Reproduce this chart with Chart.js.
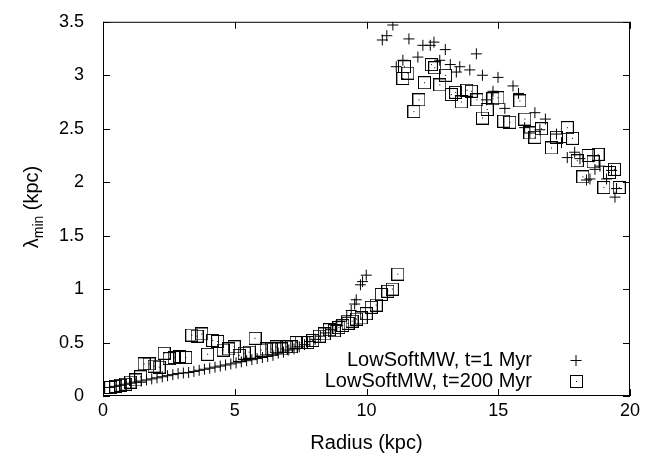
<!DOCTYPE html>
<html>
<head>
<meta charset="utf-8">
<script src="https://cdn.jsdelivr.net/npm/chart.js@4.4.1/dist/chart.umd.min.js"></script>
<style>
  body{margin:0;background:#fff;}
  #wrap{width:646px;height:460px;}
</style>
</head>
<body>
<div id="wrap"><canvas id="chart" width="646" height="460"></canvas></div>
<script>
// lambda_min gegen Radius – zwei Zeitpunkte
const radiusT1 = [
  0.25,0.45,0.65,0.85,1.05,1.25,1.45,1.65,1.85,2.05,2.25,2.45,2.65,2.85,3.05,3.25,3.45,3.65,3.85,4.05,
  4.25,4.45,4.65,4.85,5.05,5.25,5.45,5.65,5.85,6.05,6.25,6.45,6.65,6.85,7.05,7.25,7.45,7.65,7.85,8.05,
  8.25,8.45,8.65,8.85,9.05,9.25,9.42,9.55,9.61,9.77,9.85,9.99,
  10.60,10.77,11.00,11.13,11.38,11.61,11.95,12.14,12.42,12.56,12.78,12.99,13.18,13.41,13.54,13.92,14.17,14.40,
  14.55,14.80,14.99,15.25,15.56,15.77,16.00,16.20,16.39,16.58,16.79,17.21,17.40,17.62,17.90,18.10,18.35,18.48,
  18.67,18.86,19.11,19.30,19.43,19.49
];
const lambdaT1 = [
  0.08,0.09,0.10,0.11,0.12,0.13,0.14,0.15,0.16,0.17,0.18,0.19,0.20,0.21,0.215,0.22,0.23,0.24,0.25,0.26,
  0.27,0.28,0.29,0.30,0.31,0.32,0.33,0.34,0.35,0.36,0.37,0.38,0.40,0.41,0.43,0.44,0.46,0.48,0.51,0.53,
  0.56,0.59,0.62,0.66,0.70,0.75,0.80,0.86,0.90,1.04,1.07,1.13,
  3.33,3.37,3.47,3.08,3.14,3.34,3.17,3.28,3.28,3.31,3.14,3.24,3.10,3.03,3.08,3.05,3.20,3.00,
  2.77,2.85,2.98,2.69,2.90,2.83,2.51,2.46,2.65,2.49,2.59,2.45,2.37,2.23,2.28,2.22,2.02,2.03,
  2.12,2.15,2.03,2.11,1.86,1.94
];
const radiusT200 = [
  0.29,0.48,0.67,0.86,1.05,1.24,1.43,1.56,1.75,1.94,2.13,2.32,2.51,2.70,2.91,3.14,3.37,3.57,3.75,3.97,
  4.16,4.35,4.56,4.77,4.98,5.17,5.36,5.55,5.77,6.00,6.19,6.38,6.57,6.76,6.95,7.14,7.33,7.52,7.77,7.96,
  8.21,8.40,8.59,8.78,8.95,9.10,9.30,9.45,9.62,9.80,9.99,10.18,10.37,10.56,10.81,10.98,11.19,
  11.38,11.44,11.57,11.80,11.99,12.20,12.46,12.59,12.78,13.00,13.22,13.38,13.60,13.81,13.98,14.19,14.40,14.58,
  14.80,14.99,15.21,15.44,15.82,16.01,16.20,16.39,16.64,17.02,17.21,17.62,17.82,18.00,18.21,18.41,18.60,18.79,
  19.01,19.22,19.41,19.59
];
const lambdaT200 = [
  0.08,0.09,0.10,0.11,0.13,0.15,0.18,0.30,0.30,0.28,0.27,0.40,0.35,0.36,0.37,0.36,0.57,0.56,0.58,0.39,
  0.52,0.51,0.43,0.44,0.46,0.38,0.40,0.41,0.54,0.43,0.44,0.44,0.46,0.44,0.46,0.46,0.50,0.50,0.50,0.52,
  0.56,0.58,0.62,0.61,0.64,0.66,0.68,0.70,0.72,0.73,0.77,0.83,0.85,0.95,0.98,1.00,1.14,
  2.97,3.08,3.02,2.66,2.77,2.93,3.10,3.07,2.91,3.00,2.82,2.84,2.75,2.86,2.85,2.77,2.60,2.68,
  2.78,2.79,2.57,2.56,2.76,2.59,2.46,2.42,2.50,2.32,2.42,2.51,2.41,2.20,2.05,2.25,2.19,2.26,
  1.95,2.09,2.12,1.95
];
const xTicks = [0,5,10,15,20];
const yTicks = [0,0.5,1,1.5,2,2.5,3,3.5];
const seriesLabels = ["LowSoftMW, t=1 Myr","LowSoftMW, t=200 Myr"];

const FONT = "'Liberation Sans', Arial, sans-serif";

// Quadrat mit Punkt (gnuplot-Stil)
function boxDot(){
  const c = document.createElement("canvas");
  c.width = 13; c.height = 13;
  const g = c.getContext("2d");
  g.strokeStyle = "#000"; g.lineWidth = 1;
  g.strokeRect(0.5,0.5,12,12);
  g.fillStyle = "#000"; g.fillRect(6,6,1,1);
  return c;
}
const boxImg = boxDot();

// Rahmen, Ticks nach innen, Legende, y-Titel
const frame = {
  id:"frame",
  afterDraw(c){
    const {ctx, chartArea:a, scales:{x, y}} = c;
    ctx.save();
    ctx.strokeStyle = "#000"; ctx.lineWidth = 1;
    ctx.beginPath();
    yTicks.forEach(v=>{
      const py = Math.round(y.getPixelForValue(v)) + 0.5;
      ctx.moveTo(a.left, py); ctx.lineTo(a.left+7, py);
      ctx.moveTo(a.right, py); ctx.lineTo(a.right-7, py);
    });
    xTicks.forEach(v=>{
      const px = Math.round(x.getPixelForValue(v)) + 0.5;
      ctx.moveTo(px, a.bottom); ctx.lineTo(px, a.bottom-7);
      ctx.moveTo(px, a.top); ctx.lineTo(px, a.top+7);
    });
    ctx.stroke();
    ctx.strokeRect(a.left+0.5, a.top+0.5, a.width-1, a.height-1);

    // Legende
    ctx.fillStyle = "#000";
    ctx.font = "20px " + FONT;
    ctx.textAlign = "right"; ctx.textBaseline = "middle";
    ctx.fillText(seriesLabels[0], 532, 360);
    ctx.fillText(seriesLabels[1], 532, 381);
    ctx.beginPath();
    ctx.moveTo(570.5, 360.5); ctx.lineTo(581.5, 360.5);
    ctx.moveTo(576, 355); ctx.lineTo(576, 366);
    ctx.stroke();
    ctx.drawImage(boxImg, 570, 375);

    // y-Titel mit Index
    ctx.translate(31, 207);
    ctx.rotate(-Math.PI/2);
    ctx.textAlign = "left"; ctx.textBaseline = "alphabetic";
    const big = "20px " + FONT, small = "14px " + FONT;
    ctx.font = big; const w1 = ctx.measureText("λ").width;
    ctx.font = small; const w2 = ctx.measureText("min").width;
    ctx.font = big; const w3 = ctx.measureText(" (kpc)").width;
    let sx = -(w1+w2+w3)/2;
    ctx.font = big; ctx.fillText("λ", sx, 7); sx += w1;
    ctx.font = small; ctx.fillText("min", sx, 12); sx += w2;
    ctx.font = big; ctx.fillText(" (kpc)", sx, 7);
    ctx.restore();
  }
};

const toPts = (xs, ys) => xs.map((v,i)=>({x:v, y:ys[i]}));

new Chart(document.getElementById("chart"), {
  type:"scatter",
  data:{
    datasets:[
      {label:seriesLabels[0], data:toPts(radiusT1, lambdaT1), pointStyle:"cross", pointRadius:5.5,
       borderColor:"#000", backgroundColor:"#000", borderWidth:1},
      {label:seriesLabels[1], data:toPts(radiusT200, lambdaT200), pointStyle:boxImg, pointRadius:6,
       borderColor:"#000", backgroundColor:"#000"}
    ]
  },
  options:{
    responsive:false, animation:false, devicePixelRatio:1,
    layout:{padding:{top:18, right:16, left:0, bottom:0}},
    plugins:{legend:{display:false}, tooltip:{enabled:false}},
    scales:{
      x:{
        type:"linear", min:0, max:20,
        afterFit(s){ s.height = 64; },
        afterBuildTicks(s){ s.ticks = xTicks.map(v=>({value:v})); },
        grid:{display:false}, border:{display:false},
        ticks:{color:"#000", font:{family:FONT, size:18}, padding:-4, maxRotation:0, callback:v=>String(v)},
        title:{display:true, text:"Radius (kpc)", color:"#000", font:{family:FONT, size:20}, padding:{top:0, bottom:5}}
      },
      y:{
        type:"linear", min:0, max:3.5,
        afterFit(s){ s.width = 103; },
        afterBuildTicks(s){ s.ticks = yTicks.map(v=>({value:v})); },
        grid:{display:false}, border:{display:false},
        ticks:{color:"#000", font:{family:FONT, size:18}, padding:11, callback:v=>String(v)}
      }
    }
  },
  plugins:[frame]
});
</script>
</body>
</html>
